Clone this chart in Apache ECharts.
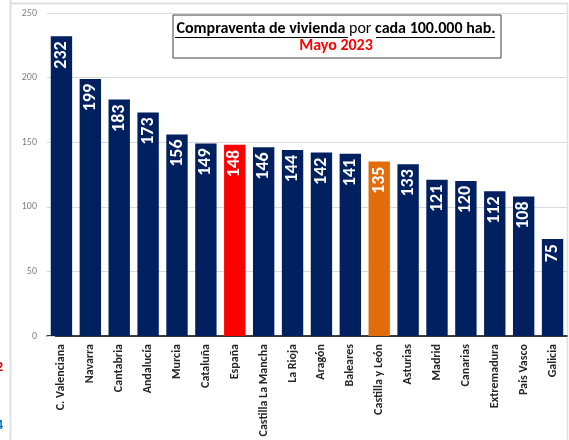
<!DOCTYPE html>
<html>
<head>
<meta charset="utf-8">
<script src="https://cdn.jsdelivr.net/npm/echarts@6/dist/echarts.min.js"></script>
<style>
html,body{margin:0;padding:0;background:#fff;}
#c{width:569px;height:440px;}
</style>
</head>
<body>
<div id="c"></div>
<script>
const categories = ['C. Valenciana','Navarra','Cantabria','Andalucía','Murcia','Cataluña','España','Castilla La Mancha','La Rioja','Aragón','Baleares','Castilla y León','Asturias','Madrid','Canarias','Extremadura','País Vasco','Galicia'];
const values = [232,199,183,173,156,149,148,146,144,142,141,135,133,121,120,112,108,75];
const highlight = {'España':'#FF0000','Castilla y León':'#E36C0A'};
const baseColor = '#002060';
const yTicks = [0,50,100,150,200,250];

const chart = echarts.init(document.getElementById('c'), null, {renderer:'canvas'});
const font = 'Calibri, Carlito, "Open Sans", "Liberation Sans", sans-serif';
chart.setOption({
  animation:false,
  backgroundColor:'#fff',
  grid:{left:47,right:2,top:13,bottom:104,containLabel:false},
  xAxis:{
    type:'category',
    data:categories,
    axisLine:{show:true,lineStyle:{color:'#000',width:1.5}},
    axisTick:{show:false},
    axisLabel:{rotate:90,interval:0,fontSize:12,fontWeight:'bold',color:'#262626',fontFamily:font,margin:8}
  },
  yAxis:{
    type:'value',min:0,max:250,interval:50,
    axisLine:{show:false},
    axisTick:{show:true,length:8,inside:true,lineStyle:{color:'#d9d9d9'}},
    splitLine:{lineStyle:{color:'#d9d9d9',width:1}},
    axisLabel:{fontSize:10,color:'#7f7f7f',fontFamily:font,margin:10,
      formatter:v=>yTicks.includes(v)?String(v):''}
  },
  series:[{
    type:'bar',
    data:values.map((v,i)=>({value:v,itemStyle:{color:highlight[categories[i]]||baseColor}})),
    barCategoryGap:'26%',
    label:{show:true,position:'insideTop',rotate:90,align:'right',verticalAlign:'middle',distance:5,
      color:'#fff',fontSize:18,fontWeight:'bold',fontFamily:font}
  }],
  graphic:[
    {type:'line',shape:{x1:10.5,y1:0,x2:10.5,y2:440},style:{stroke:'#e0e0e0',lineWidth:2},silent:true},
    {type:'line',shape:{x1:10,y1:3.5,x2:568,y2:3.5},style:{stroke:'#e0e0e0',lineWidth:2},silent:true},
    {type:'line',shape:{x1:567.5,y1:3,x2:567.5,y2:440},style:{stroke:'#e0e0e0',lineWidth:1.5},silent:true},
    {type:'text',left:-4,top:360,style:{text:'2',fill:'#C00000',font:'bold 14px '+font},silent:true},
    {type:'text',left:-4,top:418,style:{text:'4',fill:'#0070C0',font:'bold 14px '+font},silent:true},
    {type:'rect',shape:{x:173,y:15,width:328,height:43},style:{fill:'#fff',stroke:'#404040',lineWidth:1},z:10},
    {type:'text',x:336,y:29,z:11,style:{
      text:'{b|Compraventa de vivienda }{n|por }{b|cada 100.000 hab.}',
      align:'center',verticalAlign:'middle',
      rich:{b:{font:'bold 16px '+font,fill:'#000'},n:{font:'16px '+font,fill:'#000'}}
    }},
    {type:'line',z:11,shape:{x1:175,y1:37.5,x2:348,y2:37.5},style:{stroke:'#000',lineWidth:1}},
    {type:'line',z:11,shape:{x1:376,y1:37.5,x2:495,y2:37.5},style:{stroke:'#000',lineWidth:1}},
    {type:'text',x:336,y:46,z:11,style:{text:'Mayo 2023',align:'center',verticalAlign:'middle',font:'bold 16px '+font,fill:'#FF0000'}}
  ]
});
</script>
</body>
</html>
